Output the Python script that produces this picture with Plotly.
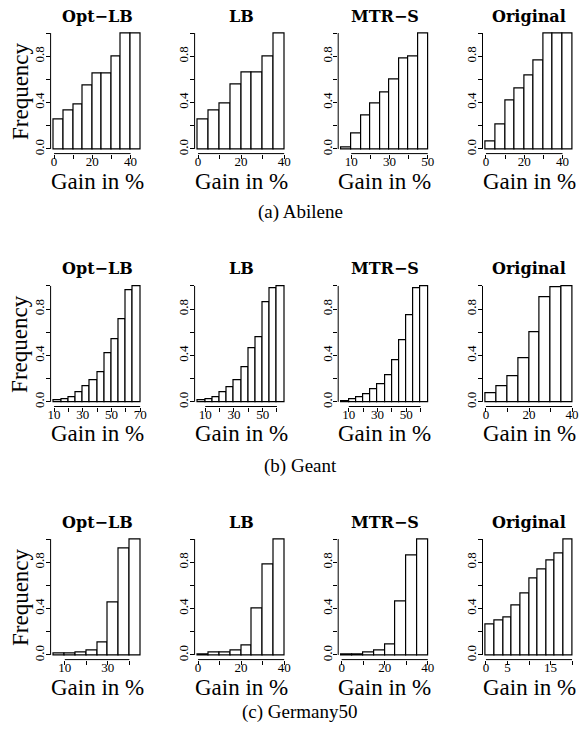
import plotly.graph_objects as go
from plotly.subplots import make_subplots

W, H = 579, 731

methods = ["Opt\u2212LB", "LB", "MTR\u2212S", "Original"]
networks = ["(a) Abilene", "(b) Geant", "(c) Germany50"]
y_ticks = [0, 0.2, 0.4, 0.6, 0.8, 1.0]
y_labels = ["0.0", "", "0.4", "", "0.8", ""]

# ---- Abilene (cumulative frequency per 5% gain bin) ----
abilene_optlb = [0.256, 0.33, 0.386, 0.548, 0.654, 0.654, 0.795, 1.0, 1.0]
abilene_lb = [0.256, 0.337, 0.39, 0.553, 0.66, 0.66, 0.798, 1.0]
abilene_mtrs = [0.017, 0.13, 0.288, 0.389, 0.49, 0.602, 0.784, 0.80, 1.0]
abilene_orig = [0.066, 0.213, 0.415, 0.524, 0.637, 0.767, 1.0, 1.0, 1.0]
abilene_bin_start = [0, 0, 5, 0]
abilene_bin_width = [5, 5, 5, 5]
abilene_xticks = [[0, 10, 20, 30, 40], [0, 10, 20, 30, 40],
                  [10, 20, 30, 40, 50], [0, 10, 20, 30, 40]]
abilene_xlabels = [["0", "", "20", "", "40"], ["0", "", "20", "", "40"],
                   ["10", "", "30", "", "50"], ["0", "", "20", "", "40"]]

# ---- Geant ----
geant_optlb = [0.011, 0.026, 0.043, 0.086, 0.132, 0.186, 0.258, 0.421, 0.544, 0.716, 0.963, 1.0]
geant_lb = [0.011, 0.02, 0.04, 0.086, 0.126, 0.183, 0.30, 0.461, 0.559, 0.86, 0.983, 1.0]
geant_mtrs = [0.009, 0.02, 0.037, 0.066, 0.106, 0.149, 0.226, 0.361, 0.53, 0.748, 0.98, 1.0]
geant_orig = [0.072, 0.138, 0.223, 0.375, 0.60, 0.905, 0.99, 1.0]
geant_bin_start = [10, 5, 5, 0]
geant_bin_width = [5, 5, 5, 5]
geant_xticks = [[10, 20, 30, 40, 50, 60, 70], [10, 20, 30, 40, 50, 60],
                [10, 20, 30, 40, 50, 60], [0, 10, 20, 30, 40]]
geant_xlabels = [["10", "", "30", "", "50", "", "70"], ["10", "", "30", "", "50", ""],
                 ["10", "", "30", "", "50", ""], ["0", "", "20", "", "40"]]

# ---- Germany50 ----
germany_optlb = [0.011, 0.011, 0.023, 0.043, 0.112, 0.457, 0.92, 1.0]
germany_lb = [0.009, 0.02, 0.02, 0.04, 0.083, 0.40, 0.78, 1.0]
germany_mtrs = [0.009, 0.009, 0.02, 0.043, 0.092, 0.466, 0.86, 1.0]
germany_orig = [0.264, 0.296, 0.328, 0.431, 0.532, 0.658, 0.739, 0.819, 0.874, 1.0]
germany_bin_start = [5, 0, 0, 0]
germany_bin_width = [5, 5, 5, 2]
germany_xticks = [[10, 20, 30, 40], [0, 10, 20, 30, 40],
                  [0, 10, 20, 30, 40], [0, 5, 10, 15, 20]]
germany_xlabels = [["10", "", "30", ""], ["0", "", "20", "", "40"],
                   ["0", "", "20", "", "40"], ["0", "5", "", "15", ""]]

rows_data = [
    ([abilene_optlb, abilene_lb, abilene_mtrs, abilene_orig],
     abilene_bin_start, abilene_bin_width, abilene_xticks, abilene_xlabels),
    ([geant_optlb, geant_lb, geant_mtrs, geant_orig],
     geant_bin_start, geant_bin_width, geant_xticks, geant_xlabels),
    ([germany_optlb, germany_lb, germany_mtrs, germany_orig],
     germany_bin_start, germany_bin_width, germany_xticks, germany_xlabels),
]

# layout in pixels
col_left = [50.6, 194.6, 338.2, 482.5]
col_w = 93.0
row_top = [28.4, 281.3, 534.4]
row_h = 125.2
caption_y = [212, 466, 712]

SERIF = "Liberation Serif, Times New Roman, serif"
fig = make_subplots(rows=3, cols=4)
shapes = []
annotations = []

for r, (series, starts, widths, xticks, xlabels) in enumerate(rows_data):
    for c in range(4):
        vals = series[c]
        w = widths[c]
        s = starts[c]
        centers = [s + w * (i + 0.5) for i in range(len(vals))]
        fig.add_trace(go.Bar(x=centers, y=vals, width=[w] * len(vals),
                             marker=dict(color="white", line=dict(color="black", width=1.2)),
                             showlegend=False, hoverinfo="x+y"),
                      row=r + 1, col=c + 1)
        n = r * 4 + c + 1
        suffix = "" if n == 1 else str(n)
        lo, hi = s, s + w * len(vals)
        pad = 0.04 * (hi - lo)
        x0 = col_left[c] / W
        x1 = (col_left[c] + col_w) / W
        y1 = 1 - row_top[r] / H
        y0 = 1 - (row_top[r] + row_h) / H
        fig.update_layout(**{
            f"xaxis{suffix}": dict(domain=[x0, x1], range=[lo - pad, hi + pad],
                                   tickvals=xticks[c], ticktext=xlabels[c],
                                   ticks="outside", ticklen=4, tickcolor="black",
                                   showline=False, showgrid=False, zeroline=False,
                                   automargin=False, ticklabelstandoff=-8,
                                   tickfont=dict(family=SERIF, size=13, color="black"),
                                   tickangle=0, fixedrange=True),
            f"yaxis{suffix}": dict(domain=[y0, y1], range=[-0.04, 1.04],
                                   tickvals=y_ticks, ticktext=y_labels,
                                   ticks="outside", ticklen=4, tickcolor="black",
                                   showline=False, showgrid=False, zeroline=False,
                                   automargin=False, ticklabelstandoff=-4,
                                   tickfont=dict(family=SERIF, size=13, color="black"),
                                   tickangle=-90, fixedrange=True),
        })
        xr = f"x{suffix}"
        yr = f"y{suffix}"
        # R-style axis lines spanning first to last tick
        shapes.append(dict(type="line", xref=xr, yref=f"{yr} domain",
                           x0=xticks[c][0], x1=xticks[c][-1], y0=0, y1=0,
                           line=dict(color="black", width=1)))
        shapes.append(dict(type="line", xref=f"{xr} domain", yref=yr,
                           x0=0, x1=0, y0=y_ticks[0], y1=y_ticks[-1],
                           line=dict(color="black", width=1)))
        cx = (col_left[c] + col_w / 2) / W
        annotations.append(dict(text=f"<b>{methods[c]}</b>", xref="paper", yref="paper",
                                x=cx, y=1 - (row_top[r] - 12.4) / H,
                                xanchor="center", yanchor="middle", showarrow=False,
                                font=dict(family="DejaVu Serif", size=16, color="black")))
        annotations.append(dict(text="Gain in %", xref="paper", yref="paper",
                                x=cx, y=1 - (row_top[r] + row_h + 27.4) / H,
                                xanchor="center", yanchor="middle", showarrow=False,
                                font=dict(family=SERIF, size=23, color="black")))
    annotations.append(dict(text="Frequency", xref="paper", yref="paper",
                            x=20 / W, y=1 - (row_top[r] + row_h / 2) / H,
                            xanchor="center", yanchor="middle", showarrow=False,
                            textangle=-90,
                            font=dict(family=SERIF, size=23, color="black")))
    annotations.append(dict(text=networks[r], xref="paper", yref="paper",
                            x=300 / W, y=1 - caption_y[r] / H,
                            xanchor="center", yanchor="middle", showarrow=False,
                            font=dict(family=SERIF, size=19, color="black")))

fig.update_layout(template="none", width=W, height=H,
                  margin=dict(l=0, r=0, t=0, b=0, autoexpand=False),
                  paper_bgcolor="white", plot_bgcolor="white",
                  shapes=shapes, annotations=annotations, bargap=0)

fig.write_html("out.html", config={"displayModeBar": False},
               post_script="document.body.style.margin='0';document.body.style.padding='0';")
